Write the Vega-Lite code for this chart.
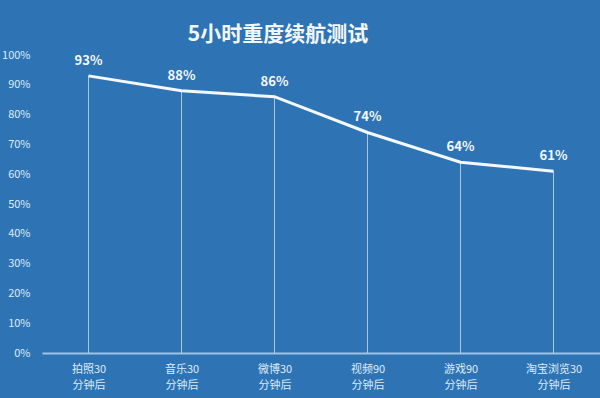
{
  "$schema": "https://vega.github.io/schema/vega-lite/v6.json",
  "autosize": "none",
  "width": 558,
  "height": 298,
  "padding": {"left": 42, "top": 55, "right": 0, "bottom": 45},
  "background": "#2E74B5",
  "config": {"view": {"stroke": null}, "font": "Noto Sans CJK SC"},
  "title": {
    "text": "5小时重度续航测试",
    "anchor": "middle",
    "frame": "group",
    "dx": -43,
    "offset": 4,
    "fontSize": 21,
    "fontWeight": "bold",
    "color": "#F2F7FC",
    "font": "Noto Sans CJK SC"
  },
  "data": {
    "values": [
      {"cat": "拍照30|分钟后", "v": 0.93, "label": "93%"},
      {"cat": "音乐30|分钟后", "v": 0.88, "label": "88%"},
      {"cat": "微博30|分钟后", "v": 0.86, "label": "86%"},
      {"cat": "视频90|分钟后", "v": 0.74, "label": "74%"},
      {"cat": "游戏90|分钟后", "v": 0.64, "label": "64%"},
      {"cat": "淘宝浏览30|分钟后", "v": 0.61, "label": "61%"}
    ]
  },
  "encoding": {
    "x": {
      "field": "cat",
      "type": "nominal",
      "sort": null,
      "scale": {"type": "point", "padding": 0.5},
      "axis": {
        "title": null,
        "labelAngle": 0,
        "labelExpr": "split(datum.value, '|')",
        "labelColor": "#DDEBF7",
        "labelFontSize": 11,
        "labelLineHeight": 16,
        "labelPadding": 10,
        "ticks": false,
        "domainColor": "#9DC3E6",
        "domainWidth": 2,
        "grid": false
      }
    },
    "y": {
      "field": "v",
      "type": "quantitative",
      "scale": {"domain": [0, 1]},
      "axis": {
        "title": null,
        "format": ".0%",
        "values": [0, 0.1, 0.2, 0.3, 0.4, 0.5, 0.6, 0.7, 0.8, 0.9, 1],
        "labelColor": "#DDEBF7",
        "labelFontSize": 11,
        "labelPadding": 12,
        "ticks": false,
        "domain": false,
        "grid": false
      }
    }
  },
  "layer": [
    {
      "mark": {"type": "rule", "color": "#C9DDF0", "strokeWidth": 1, "opacity": 0.8},
      "encoding": {"y2": {"datum": 0}}
    },
    {
      "mark": {"type": "line", "color": "#F4F8FC", "strokeWidth": 3}
    },
    {
      "mark": {"type": "text", "dy": -15, "fontSize": 13, "fontWeight": "bold", "color": "#F4F8FC"},
      "encoding": {"text": {"field": "label"}}
    }
  ]
}
